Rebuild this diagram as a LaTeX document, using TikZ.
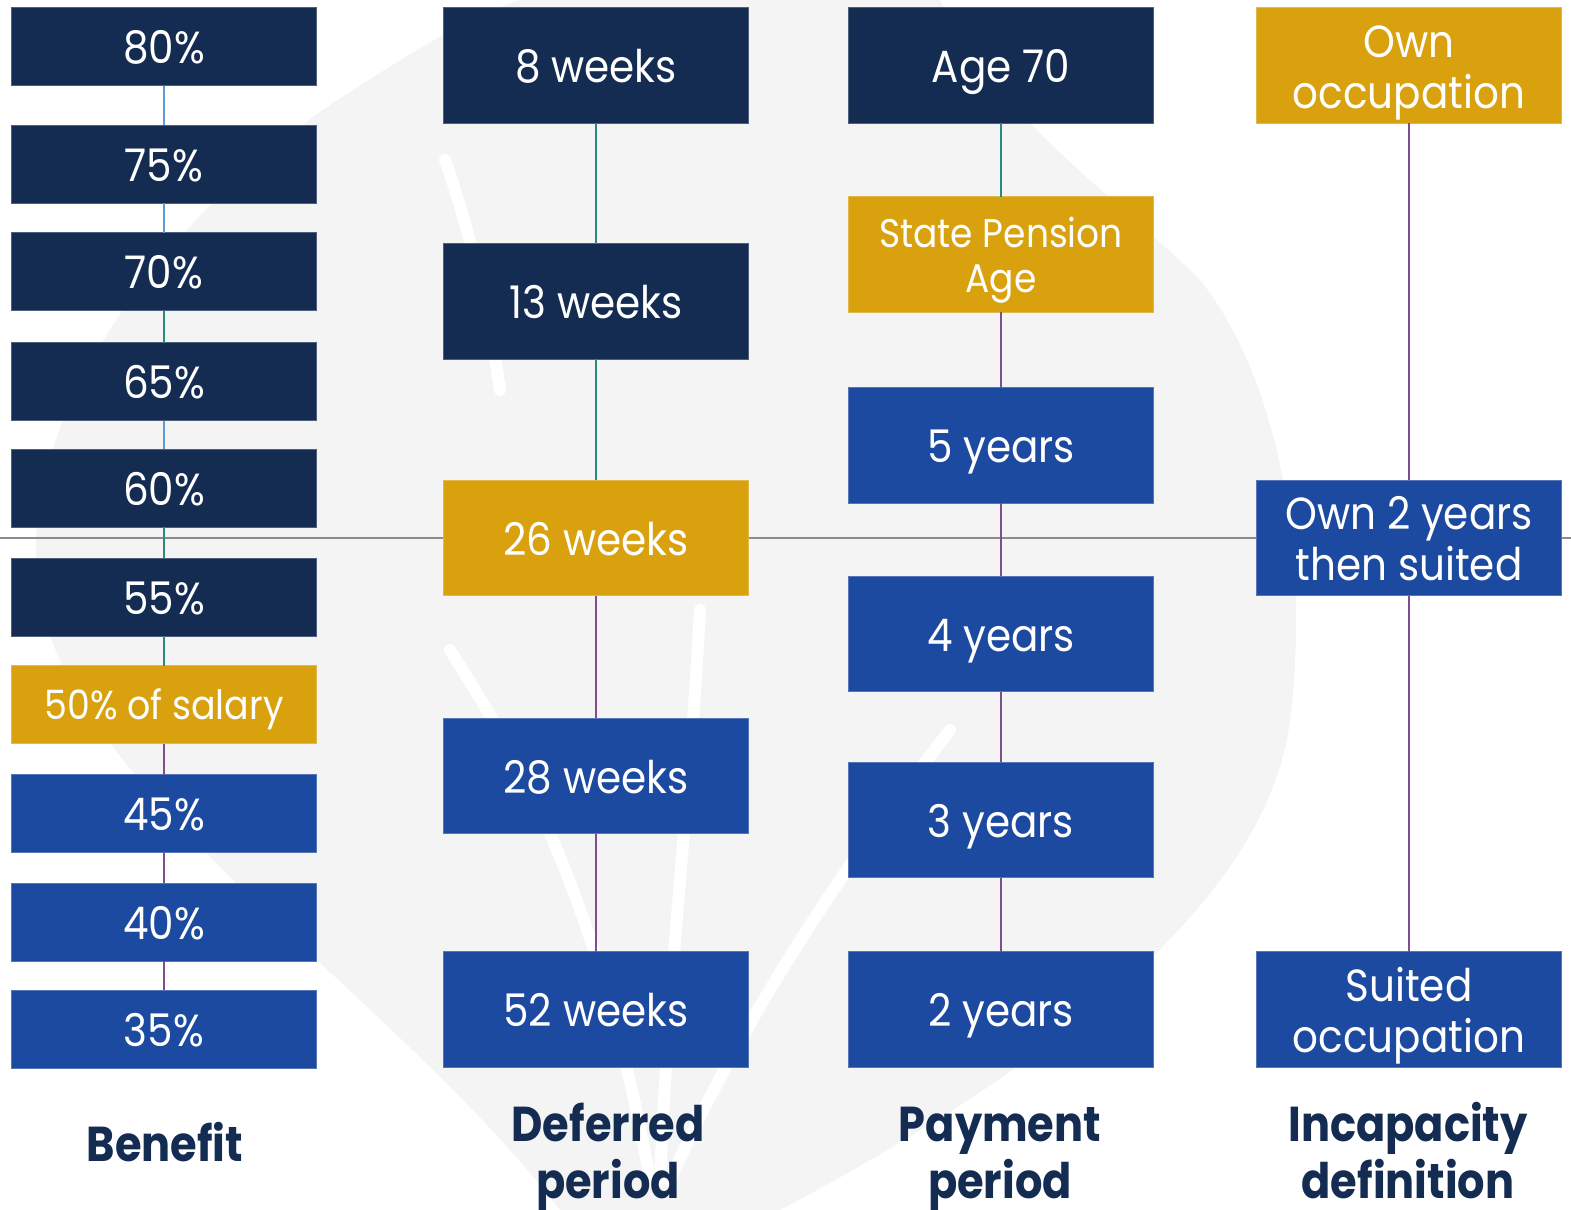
\documentclass[tikz,border=0pt]{standalone}
\usepackage{graphicx}
\usepackage{fontspec}
\setmainfont{Poppins}
\definecolor{navy}{HTML}{142B52}
\definecolor{royal}{HTML}{1C4AA0}
\definecolor{gold}{HTML}{D9A10E}
\definecolor{lnteal}{HTML}{2A8A7C}
\definecolor{lnblue}{HTML}{5B9BD5}
\definecolor{lnpurple}{HTML}{7E4E8E}
\definecolor{wmgray}{HTML}{F4F4F4}
\definecolor{hgray}{HTML}{8C8C8C}
\def\tx{0.9}
\def\bx{0.88}
\newcommand\one[1]{\raisebox{0pt}[1.006em][0.25em]{\scalebox{\tx}[1]{#1}}}
\newcommand\two[3]{\raisebox{0pt}[\dimexpr#1+1.006em\relax][0.25em]{\scalebox{\tx}[1]{\vbox{\baselineskip=#1\lineskiplimit=-\maxdimen\halign{\hfil##\hfil\cr#2\cr#3\cr}}}}}
\newcommand\lab[2]{\scalebox{\bx}[1]{\vbox{\baselineskip=28.5pt\lineskiplimit=-\maxdimen\halign{\hfil##\hfil\cr#1\cr#2\cr}}}}
\tikzset{
  bx/.style={minimum width=152.5pt, inner sep=0pt, outer sep=0pt, text=white,
    font=\fontsize{22.5}{27}\selectfont, fill=#1, draw=#1!75!white, line width=0.4pt},
  sbox/.style={bx=#1, minimum height=39pt},
  tbox/.style={bx=#1, minimum height=57.75pt},
  conn/.style={draw=#1, line width=0.6pt},
  lbl/.style={anchor=base, inner sep=0pt, text=navy, font=\bfseries\fontsize{24.5}{28.5}\selectfont},
  wm/.style={fill=wmgray},
  wstreak/.style={draw=white, line width=6pt, line cap=round},
}
\begin{document}
\begin{tikzpicture}[x=0.5pt, y=-0.5pt]
\useasboundingbox (0,0) rectangle (1571,1210);
\fill[white] (0,0) rectangle (1571,1210);
% watermark
\fill[wm] (560,1210) .. controls (400,1000) and (80,800) .. (40,600)
  .. controls (10,430) and (150,230) .. (330,105)
  .. controls (400,60) and (460,20) .. (520,0) -- (940,0)
  .. controls (1000,120) and (1120,200) .. (1200,280)
  .. controls (1280,380) and (1310,560) .. (1290,720)
  .. controls (1270,880) and (1100,1040) .. (780,1210) -- cycle;
\draw[wstreak] (650,1180) .. controls (600,900) and (520,760) .. (450,650);
\draw[wstreak] (660,1180) .. controls (670,950) and (690,800) .. (700,610);
\draw[wstreak] (670,1180) .. controls (760,980) and (880,820) .. (950,730);
\draw[wstreak] (445,160) .. controls (470,230) and (490,320) .. (500,390);
% horizontal line
\coordinate (hl) at (0,538);
\coordinate (hr) at (1571,538);
\draw[hgray, line width=1pt] (hl) -- (hr);
% Benefit
\node[sbox=navy] (b80) at (164,46.5) {\one{80\%}};
\node[sbox=navy] (b75) at (164,164) {\one{75\%}};
\node[sbox=navy] (b70) at (164,271.5) {\one{70\%}};
\node[sbox=navy] (b65) at (164,381.5) {\one{65\%}};
\node[sbox=navy] (b60) at (164,488) {\one{60\%}};
\node[sbox=navy] (b55) at (164,597) {\one{55\%}};
\node[sbox=gold, font=\fontsize{20.2}{24}\selectfont] (b50) at (164,704.5) {\one{50\% of salary}};
\node[sbox=royal] (b45) at (164,813.5) {\one{45\%}};
\node[sbox=royal] (b40) at (164,922) {\one{40\%}};
\node[sbox=royal] (b35) at (164,1029) {\one{35\%}};
% Deferred
\node[tbox=navy] (d8) at (596,65.5) {\one{8 weeks}};
\node[tbox=navy] (d13) at (596,301.5) {\one{13 weeks}};
\node[tbox=gold] (d26) at (596,538) {\one{26 weeks}};
\node[tbox=royal] (d28) at (596,776) {\one{28 weeks}};
\node[tbox=royal] (d52) at (596,1009.5) {\one{52 weeks}};
% Payment
\node[tbox=navy] (p70) at (1001,65.5) {\one{Age 70}};
\node[tbox=gold, font=\fontsize{20}{24}\selectfont] (pspa) at (1001,254.5) {\two{22.5pt}{State Pension}{Age}};
\node[tbox=royal] (p5) at (1001,445.5) {\one{5 years}};
\node[tbox=royal] (p4) at (1001,634) {\one{4 years}};
\node[tbox=royal] (p3) at (1001,820) {\one{3 years}};
\node[tbox=royal] (p2) at (1001,1009.5) {\one{2 years}};
% Incapacity
\node[tbox=gold] (iown) at (1409,65.5) {\two{25.5pt}{Own}{occupation}};
\node[tbox=royal] (i2) at (1409,538) {\two{25.5pt}{Own 2 years}{then suited}};
\node[tbox=royal] (isuit) at (1409,1009.5) {\two{25.5pt}{Suited}{occupation}};
% connectors
\draw[conn=lnblue] (b80.south) -- (b75.north);
\draw[conn=lnblue] (b75.south) -- (b70.north);
\draw[conn=lnteal] (b70.south) -- (b65.north);
\draw[conn=lnblue] (b65.south) -- (b60.north);
\draw[conn=lnteal] (b60.south) -- (b55.north);
\draw[conn=lnteal] (b55.south) -- (b50.north);
\draw[conn=lnpurple] (b50.south) -- (b45.north);
\draw[conn=lnpurple] (b45.south) -- (b40.north);
\draw[conn=lnpurple] (b40.south) -- (b35.north);
\draw[conn=lnteal] (d8.south) -- (d13.north);
\draw[conn=lnteal] (d13.south) -- (d26.north);
\draw[conn=lnpurple] (d26.south) -- (d28.north);
\draw[conn=lnpurple] (d28.south) -- (d52.north);
\draw[conn=lnteal] (p70.south) -- (pspa.north);
\draw[conn=lnpurple] (pspa.south) -- (p5.north);
\draw[conn=lnpurple] (p5.south) -- (p4.north);
\draw[conn=lnpurple] (p4.south) -- (p3.north);
\draw[conn=lnpurple] (p3.south) -- (p2.north);
\draw[conn=lnpurple] (iown.south) -- (i2.north);
\draw[conn=lnpurple] (i2.south) -- (isuit.north);
% column titles
\node[lbl] (tben) at (165,1161) {\scalebox{\bx}[1]{Benefit}};
\node[lbl] (tdef) at (608,1198) {\lab{Deferred}{period}};
\node[lbl] (tpay) at (1000,1198) {\lab{Payment}{period}};
\node[lbl] (tinc) at (1408,1198) {\lab{Incapacity}{definition}};
\end{tikzpicture}
\end{document}
